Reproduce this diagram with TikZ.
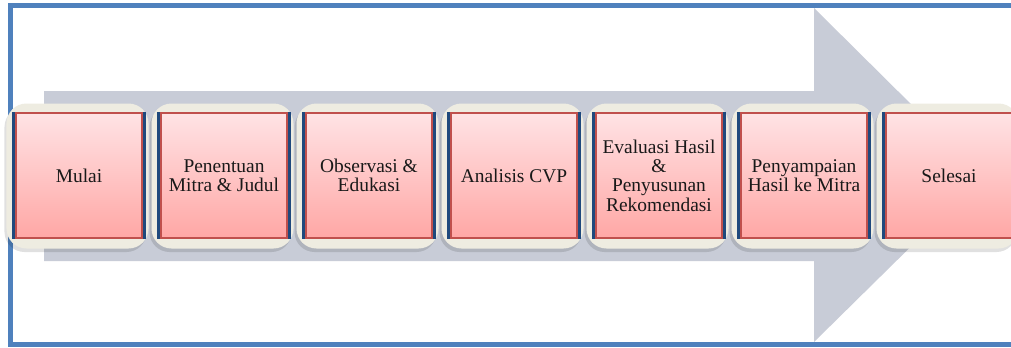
\documentclass[tikz,border=0pt]{standalone}
\usepackage{fontspec}
\setmainfont{Liberation Serif}
\definecolor{framebl}{HTML}{4F81BD}
\definecolor{arrowg}{HTML}{C8CCD7}
\definecolor{creamc}{HTML}{EEECE1}
\definecolor{pinktop}{HTML}{FFE3E5}
\definecolor{pinkbot}{HTML}{FFA7A5}
\definecolor{redb}{HTML}{C0504D}
\definecolor{navyb}{HTML}{1F497D}
\tikzset{
  creambox/.style={draw=none, fill=creamc, rounded corners=20bp, minimum width=142bp, minimum height=145bp, inner sep=0pt},
  shadowbox/.style={draw=none, fill=black, fill opacity=0.12, rounded corners=20bp, minimum width=142bp, minimum height=145bp, inner sep=0pt},
  navybox/.style={draw=none, fill=navyb, minimum width=134bp, minimum height=127bp, inner sep=0pt},
  pinkbox/.style={draw=redb, line width=1.5bp, top color=pinktop, bottom color=pinkbot, minimum width=126bp, minimum height=125bp, inner sep=2pt, align=center, text=black!90, font=\fontsize{19.5}{19.5}\selectfont}
}
\begin{document}
\begin{tikzpicture}[x=1bp,y=-1bp]
\useasboundingbox (0,0) rectangle (1011,347);
\clip (0,0) rectangle (1011,347);
\fill[white] (0,0) rectangle (1011,347);
% frame
\draw[framebl, line width=5bp] (10.5,5.5) -- (1020,5.5) -- (1020,344.5) -- (10.5,344.5) -- cycle;
% big arrow
\fill[arrowg] (44,91) -- (814,91) -- (814,8) -- (983,175.5) -- (814,342) -- (814,261) -- (44,261) -- cycle;
% boxes
\foreach \i/\t in {1/{Mulai},2/{Penentuan\\Mitra \& Judul},3/{Observasi \&\\Edukasi},4/{Analisis CVP},5/{Evaluasi Hasil\\\&\\Penyusunan\\Rekomendasi},6/{Penyampaian\\Hasil ke Mitra},7/{Selesai}}{
  \pgfmathsetmacro{\cx}{79+145*(\i-1)}
  \node[shadowbox] (s\i) at (\cx-3.5,179.5) {};
  \node[creambox] (c\i) at (\cx-1.5,176) {};
  \node[navybox] (n\i) at (\cx,175.5) {};
  \node[pinkbox] (b\i) at (\cx,175.5) {\t};
}
\end{tikzpicture}
\end{document}
